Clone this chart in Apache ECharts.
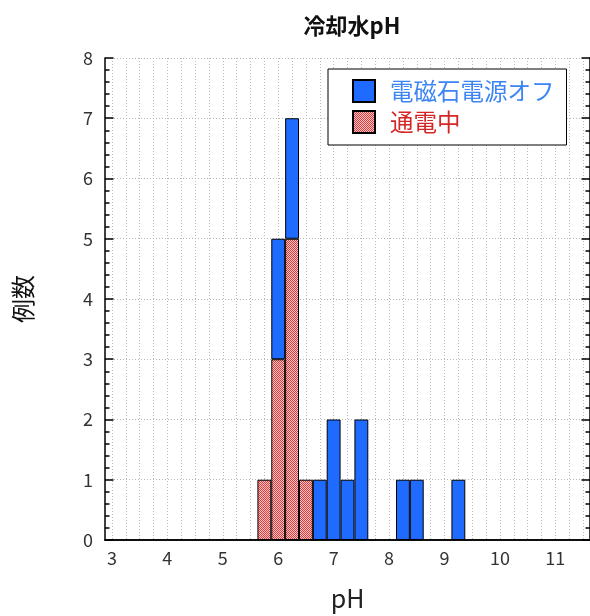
<!DOCTYPE html>
<html>
<head>
<meta charset="utf-8">
<script src="https://cdn.jsdelivr.net/npm/echarts@6/dist/echarts.min.js"></script>
<style>
html,body{margin:0;padding:0;background:#fff;}
#chart{width:590px;height:616px;}
</style>
</head>
<body>
<div id="chart"></div>
<script>
// pH bin centres (bin width 0.25)
const phBins = [3.0, 3.25, 3.5, 3.75, 4.0, 4.25, 4.5, 4.75, 5.0, 5.25, 5.5, 5.75,
  6.0, 6.25, 6.5, 6.75, 7.0, 7.25, 7.5, 7.75, 8.0, 8.25, 8.5, 8.75,
  9.0, 9.25, 9.5, 9.75, 10.0, 10.25, 10.5, 10.75, 11.0, 11.25, 11.5];
const xTickLabels = [3, 4, 5, 6, 7, 8, 9, 10, 11];
// 電磁石電源オフ (stacked on top)
const offPH = [6.0, 6.25, 6.75, 7.0, 7.25, 7.5, 8.25, 8.5, 9.25];
const offCounts = [2, 2, 1, 2, 1, 2, 1, 1, 1];
// 通電中 (bottom)
const onPH = [5.75, 6.0, 6.25, 6.5];
const onCounts = [1, 3, 5, 1];
const yTicks = [0, 1, 2, 3, 4, 5, 6, 7, 8];

function toSeries(phs, counts) {
  return phBins.map(function (b) {
    const i = phs.indexOf(b);
    return i >= 0 ? counts[i] : '-';
  });
}

const pat = document.createElement('canvas');
pat.width = 2; pat.height = 2;
const pc = pat.getContext('2d');
pc.fillStyle = '#f8c6c6'; pc.fillRect(0, 0, 2, 2);
pc.fillStyle = '#de3c3c'; pc.fillRect(0, 0, 1, 1); pc.fillRect(1, 1, 1, 1);

const font = '"Noto Sans CJK JP", "Noto Sans", sans-serif';
const chart = echarts.init(document.getElementById('chart'));
const catLabels = phBins.map(String);
const isLabel = function (idx, val) { return xTickLabels.indexOf(Number(val)) >= 0; };

chart.setOption({
  animation: false,
  backgroundColor: '#fff',
  title: {
    text: '冷却水pH', left: 347, top: 10, textAlign: 'center',
    textStyle: { fontFamily: font, fontSize: 22, fontWeight: 'bold', color: '#111' }
  },
  legend: {
    orient: 'vertical', left: 328, top: 69,
    padding: [10, 12, 11, 24], itemGap: 7, itemWidth: 22, itemHeight: 22,
    borderColor: '#000', borderWidth: 1, backgroundColor: '#fff',
    icon: 'rect',
    textStyle: { fontFamily: font, fontSize: 23.5, padding: [0, 0, 0, 10] },
    data: [
      { name: '電磁石電源オフ', textStyle: { color: '#3d85f5' } },
      { name: '通電中', textStyle: { color: '#d42626' } }
    ]
  },
  grid: { left: 105, right: 0, top: 58, bottom: 73 },
  xAxis: [{
    type: 'category', data: catLabels, boundaryGap: true,
    name: 'pH', nameLocation: 'middle', nameGap: 46,
    nameTextStyle: { fontFamily: font, fontSize: 25, color: '#222' },
    axisLine: { lineStyle: { color: '#000', width: 1.5 } },
    axisTick: { inside: true, alignWithLabel: true, interval: 0, length: 8, lineStyle: { color: '#000', width: 1.5 } },
    axisLabel: { interval: isLabel, fontFamily: font, fontSize: 18, color: '#333', margin: 9,
      formatter: function (v) { return String(Number(v)); } },
    splitLine: { show: true, interval: 0, alignWithLabel: true, lineStyle: { color: '#b8b8b8', type: [1, 2], width: 1 } }
  }, {
    type: 'category', data: catLabels, boundaryGap: true, position: 'top',
    axisLine: { lineStyle: { color: '#000', width: 1.5 } },
    axisTick: { inside: true, alignWithLabel: true, interval: 0, length: 8, lineStyle: { color: '#000', width: 1.5 } },
    axisLabel: { show: false }, splitLine: { show: false }
  }],
  yAxis: [{
    type: 'value', min: yTicks[0], max: yTicks[yTicks.length - 1], interval: 1,
    name: '例数', nameLocation: 'middle', nameGap: 70, nameRotate: 90,
    nameTextStyle: { fontFamily: font, fontSize: 24, color: '#111' },
    axisLine: { show: true, lineStyle: { color: '#000', width: 1.5 } },
    axisTick: { show: true, inside: true, length: 8.5, lineStyle: { color: '#000', width: 1.5 } },
    minorTick: { show: true, splitNumber: 5, length: 4.5, lineStyle: { color: '#000', width: 1.5 } },
    axisLabel: { fontFamily: font, fontSize: 18, color: '#333', margin: 12 },
    splitLine: { show: true, lineStyle: { color: '#b8b8b8', type: [1, 2], width: 1 } }
  }, {
    type: 'value', min: yTicks[0], max: yTicks[yTicks.length - 1], interval: 1, position: 'right',
    axisLine: { show: true, lineStyle: { color: '#000', width: 1.5 } },
    axisTick: { show: true, inside: true, length: 8.5, lineStyle: { color: '#000', width: 1.5 } },
    minorTick: { show: true, splitNumber: 5, length: 4.5, lineStyle: { color: '#000', width: 1.5 } },
    axisLabel: { show: false }, splitLine: { show: false }
  }],
  series: [{
    name: '通電中', type: 'bar', stack: 'h', barWidth: '100%', barCategoryGap: 0,
    itemStyle: { color: { image: pat, repeat: 'repeat' }, borderColor: '#000', borderWidth: 1 },
    data: toSeries(onPH, onCounts), z: 3
  }, {
    name: '電磁石電源オフ', type: 'bar', stack: 'h', barWidth: '100%', barCategoryGap: 0,
    itemStyle: { color: '#1f6bff', borderColor: '#000', borderWidth: 1 },
    data: toSeries(offPH, offCounts), z: 3
  }]
});
</script>
</body>
</html>
